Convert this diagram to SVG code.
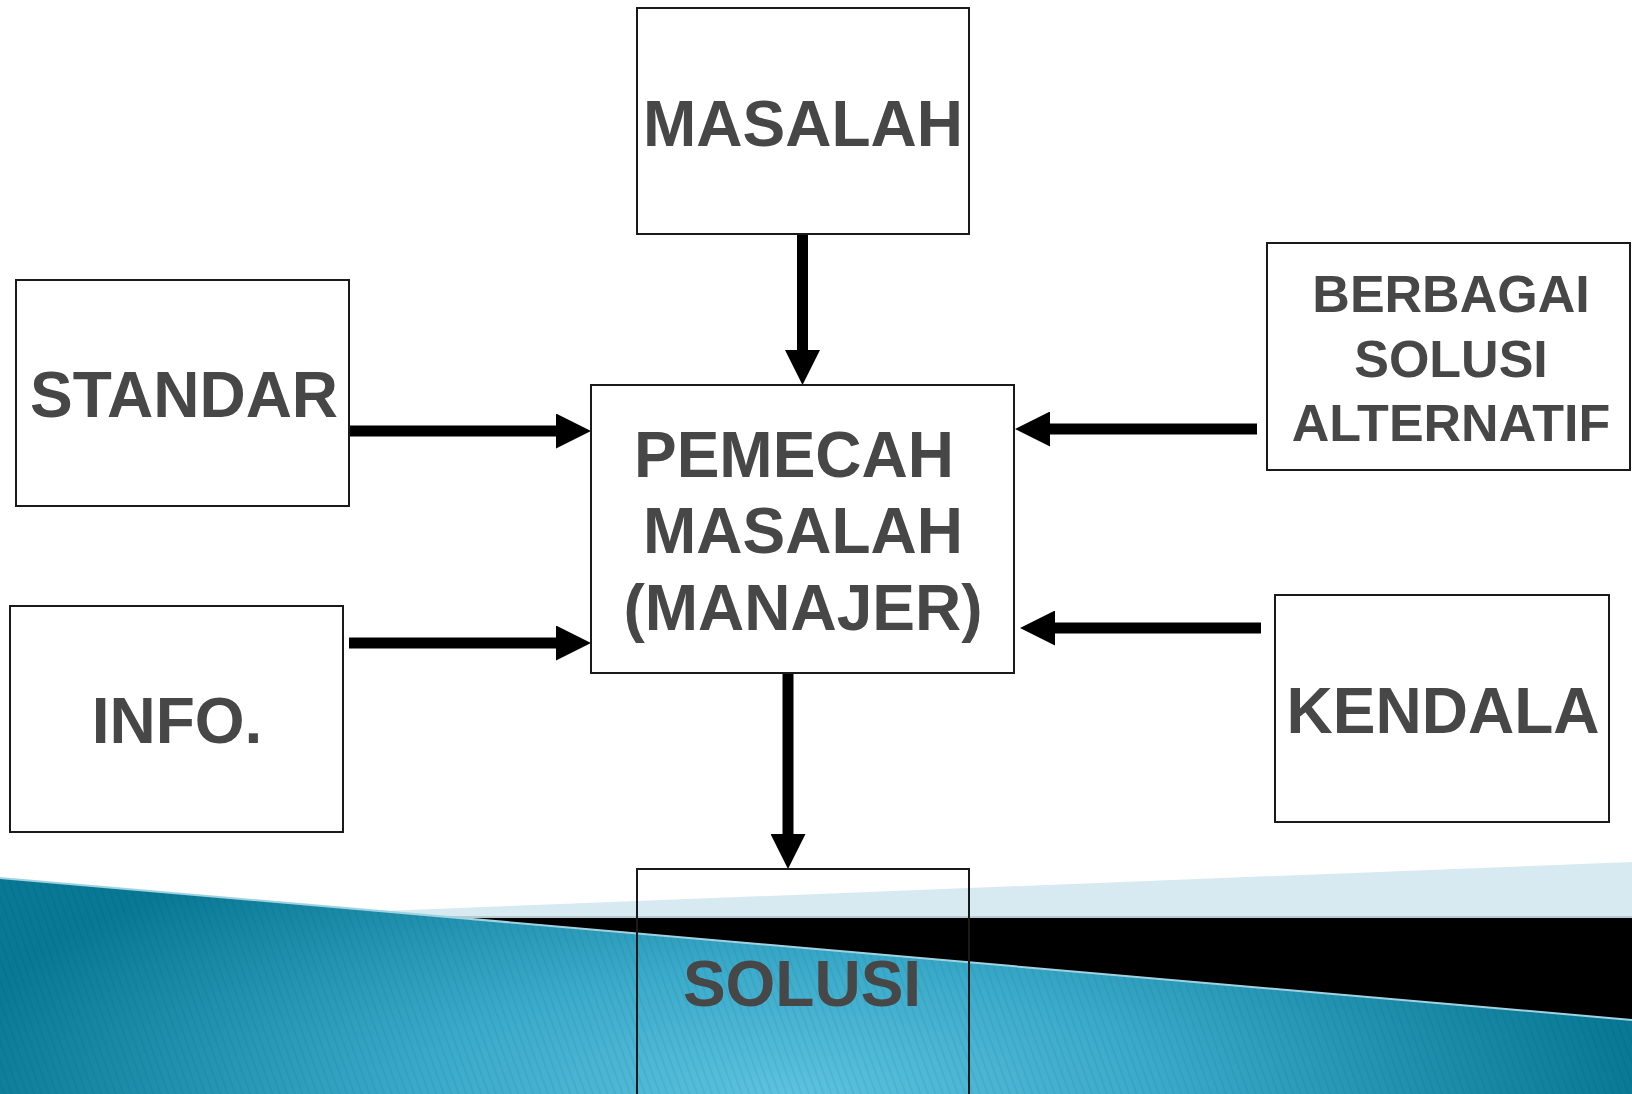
<svg xmlns="http://www.w3.org/2000/svg" width="1632" height="1094" viewBox="0 0 1632 1094">
<style>
.box{fill:#ffffff;stroke:#1a1a1a;stroke-width:2}
.open{fill:none;stroke:#1a1a1a;stroke-width:2}
.lbl{font-family:"Liberation Sans",Arial,sans-serif;font-weight:bold;font-size:64px;fill:#474747;text-anchor:middle}
.sm{font-size:52px}
.conn{stroke:#000;stroke-width:11;fill:none;marker-end:url(#head)}
</style>
<defs>
<marker id="head" viewBox="0 0 35 35" markerWidth="35" markerHeight="35" refX="0" refY="17.5" orient="auto" markerUnits="userSpaceOnUse">
<path d="M0,0 L35,17.5 L0,35 Z" fill="#000"/>
</marker>
<radialGradient id="teal" gradientUnits="userSpaceOnUse" cx="790" cy="1094" r="850" fx="790" fy="1094" gradientTransform="translate(790,1094) scale(1,0.35) translate(-790,-1094)">
<stop offset="0" stop-color="#5cc2df"/>
<stop offset="0.45" stop-color="#3aa9c9"/>
<stop offset="1" stop-color="#087894"/>
</radialGradient>
<pattern id="hatch" width="7" height="7" patternUnits="userSpaceOnUse" patternTransform="rotate(-20)">
<line x1="1" y1="0" x2="1" y2="7" stroke="#003a4a" stroke-opacity="0.15" stroke-width="1"/>
</pattern>
</defs>
<rect width="1632" height="1094" fill="#ffffff"/>
<g id="decoration">
<polygon points="383,911 1632,862 1632,917 383,917" fill="#d8eaf1"/>
<line x1="420" y1="917" x2="1632" y2="917" stroke="#b9c9d0" stroke-width="2"/>
<rect x="420" y="918" width="1212" height="176" fill="#000"/>
<polygon points="0,878 1632,1020 1632,1094 0,1094" fill="url(#teal)"/>
<polygon points="0,878 1632,1020 1632,1094 0,1094" fill="url(#hatch)"/>
<line x1="0" y1="878" x2="1632" y2="1020" stroke="#9fd3e2" stroke-width="2"/>
</g>
<g id="connectors">
<line class="conn" x1="802.5" y1="234" x2="802.5" y2="350"/>
<line class="conn" x1="349" y1="431" x2="556" y2="431"/>
<line class="conn" x1="349" y1="643" x2="556" y2="643"/>
<line class="conn" x1="1257" y1="429" x2="1050" y2="429"/>
<line class="conn" x1="1261" y1="628" x2="1055" y2="628"/>
<line class="conn" x1="788" y1="673" x2="788" y2="834"/>
</g>
<g id="masalah">
<rect class="box" x="637" y="8" width="332" height="226"/>
<text class="lbl" x="803" y="146">MASALAH</text>
</g>
<g id="pemecah">
<rect class="box" x="591" y="385" width="423" height="288"/>
<text class="lbl" x="794" y="477">PEMECAH</text>
<text class="lbl" x="803" y="553">MASALAH</text>
<text class="lbl" x="803" y="630">(MANAJER)</text>
</g>
<g id="standar">
<rect class="box" x="16" y="280" width="333" height="226"/>
<text class="lbl" x="184" y="417">STANDAR</text>
</g>
<g id="info">
<rect class="box" x="10" y="606" width="333" height="226"/>
<text class="lbl" x="177" y="743">INFO.</text>
</g>
<g id="berbagai">
<rect class="box" x="1267" y="243" width="363" height="227"/>
<text class="lbl sm" x="1451" y="312">BERBAGAI</text>
<text class="lbl sm" x="1451" y="377">SOLUSI</text>
<text class="lbl sm" x="1451" y="441">ALTERNATIF</text>
</g>
<g id="kendala">
<rect class="box" x="1275" y="595" width="334" height="227"/>
<text class="lbl" x="1443" y="733">KENDALA</text>
</g>
<g id="solusi">
<rect class="open" x="637" y="869" width="332" height="228"/>
<text class="lbl" x="802" y="1006">SOLUSI</text>
</g>
</svg>
